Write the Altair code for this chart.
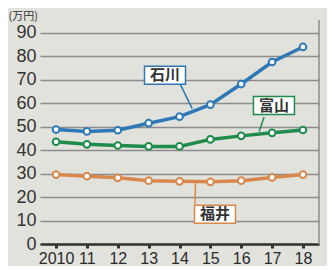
import altair as alt
import pandas as pd

years = [2010, 2011, 2012, 2013, 2014, 2015, 2016, 2017, 2018]
ishikawa = [48.8, 48.0, 48.5, 51.5, 54.3, 59.4, 68.2, 77.6, 84.0]
toyama = [43.6, 42.5, 42.0, 41.6, 41.6, 44.6, 46.1, 47.4, 48.6]
fukui = [29.6, 28.9, 28.2, 27.0, 26.7, 26.5, 27.0, 28.4, 29.6]
series_names = ["石川", "富山", "福井"]
colors = ["#2f78b6", "#1f8c4c", "#d8884c"]

y_ticks = [0, 10, 20, 30, 40, 50, 60, 70, 80, 90]

rows = []
for name, vals in zip(series_names, [ishikawa, toyama, fukui]):
    for yr, v in zip(years, vals):
        rows.append({"year": yr, "value": v, "series": name})
df = pd.DataFrame(rows)

# annotation label anchors (data units) and leader lines
lab_x = [2013.53, 2017.06, 2015.15]
lab_y = [71.9, 59.0, 12.7]
lead_x1 = [2014.02, 2016.74, 2014.50]
lead_y1 = [68.3, 54.0, 17.0]
lead_x2 = [2014.41, 2016.58, 2014.52]
lead_y2 = [57.7, 48.0, 25.9]

W, H = 279, 224
XMIN, XMAX = 2009.48, 2018.52
YMAX = 95.5
px_x = (XMAX - XMIN) / W
px_y = YMAX / H
box_w, box_h = 41, 18

lab = pd.DataFrame({"series": series_names, "x": lab_x, "y": lab_y,
                    "x1": lead_x1, "y1": lead_y1, "x2": lead_x2, "y2": lead_y2})
lab["bx0"] = lab["x"] - box_w / 2 * px_x
lab["bx1"] = lab["x"] + box_w / 2 * px_x
lab["by0"] = lab["y"] - box_h / 2 * px_y
lab["by1"] = lab["y"] + box_h / 2 * px_y

color_scale = alt.Scale(domain=series_names, range=colors)
xs = alt.Scale(domain=[XMIN, XMAX], nice=False, zero=False)
ys = alt.Scale(domain=[0, YMAX], nice=False)

x_axis = alt.Axis(
    values=years, labelExpr="datum.value == 2010 ? '2010' : format(datum.value % 100, '02')",
    grid=False, domainColor="#333", domainWidth=2.5, tickColor="#333",
    tickSize=4, tickWidth=3, labelFontSize=16, labelFont="Liberation Sans",
    labelColor="#2a2a2a", labelPadding=2, labelOverlap=False, title=None)
y_axis = alt.Axis(
    values=y_ticks, grid=True, gridColor="#8c8c8c", gridWidth=1.5,
    domain=False, ticks=False, labelFontSize=18, labelFont="Liberation Sans",
    labelColor="#333", labelPadding=4, labelOverlap=False,
    title="(万円)", titleAngle=0, titleAlign="left", titleBaseline="top",
    titleX=-32, titleY=-10, titleFontSize=11, titleFontWeight="normal",
    titleFont="Noto Sans CJK JP", titleColor="#333")

base = alt.Chart(df)

lines = base.mark_line(strokeWidth=3.5).encode(
    x=alt.X("year:Q", scale=xs, axis=x_axis),
    y=alt.Y("value:Q", scale=ys, axis=y_axis),
    color=alt.Color("series:N", scale=color_scale, legend=None),
    detail="series:N",
)

points = base.mark_point(filled=True, fill="white", size=45, strokeWidth=2, opacity=1).encode(
    x=alt.X("year:Q", scale=xs, axis=x_axis),
    y=alt.Y("value:Q", scale=ys, axis=y_axis),
    stroke=alt.Stroke("series:N", scale=color_scale, legend=None),
)

lb = alt.Chart(lab)
leaders = lb.mark_rule(strokeWidth=1.5).encode(
    x=alt.X("x1:Q", scale=xs, axis=x_axis), y=alt.Y("y1:Q", scale=ys, axis=y_axis),
    x2="x2:Q", y2="y2:Q",
    color=alt.Color("series:N", scale=color_scale, legend=None),
)
boxes = lb.mark_rect(fill="white", strokeWidth=1.5).encode(
    x=alt.X("bx0:Q", scale=xs, axis=x_axis), x2="bx1:Q",
    y=alt.Y("by0:Q", scale=ys, axis=y_axis), y2="by1:Q",
    stroke=alt.Stroke("series:N", scale=color_scale, legend=None),
)
texts = lb.mark_text(font="Noto Sans CJK JP", fontSize=15, fontWeight="bold",
                     color="#333", baseline="middle", align="center", dy=0).encode(
    x=alt.X("x:Q", scale=xs, axis=x_axis), y=alt.Y("y:Q", scale=ys, axis=y_axis), text="series:N",
)

right_border = alt.Chart(pd.DataFrame({"a": [0]})).mark_rule(color="#8c8c8c", strokeWidth=1.5).encode(
    x=alt.value(W), y=alt.value(0), y2=alt.value(H)
)

chart = alt.layer(lines, points, leaders, boxes, texts, right_border).properties(
    width=W, height=H,
    autosize=alt.AutoSizeParams(type="none"),
    padding={"left": 32, "top": 12, "right": 8, "bottom": 22},
    background="#e2e2dc",
).configure_view(stroke=None)

chart.save("out.html", embed_options={"renderer": "svg", "actions": False})
